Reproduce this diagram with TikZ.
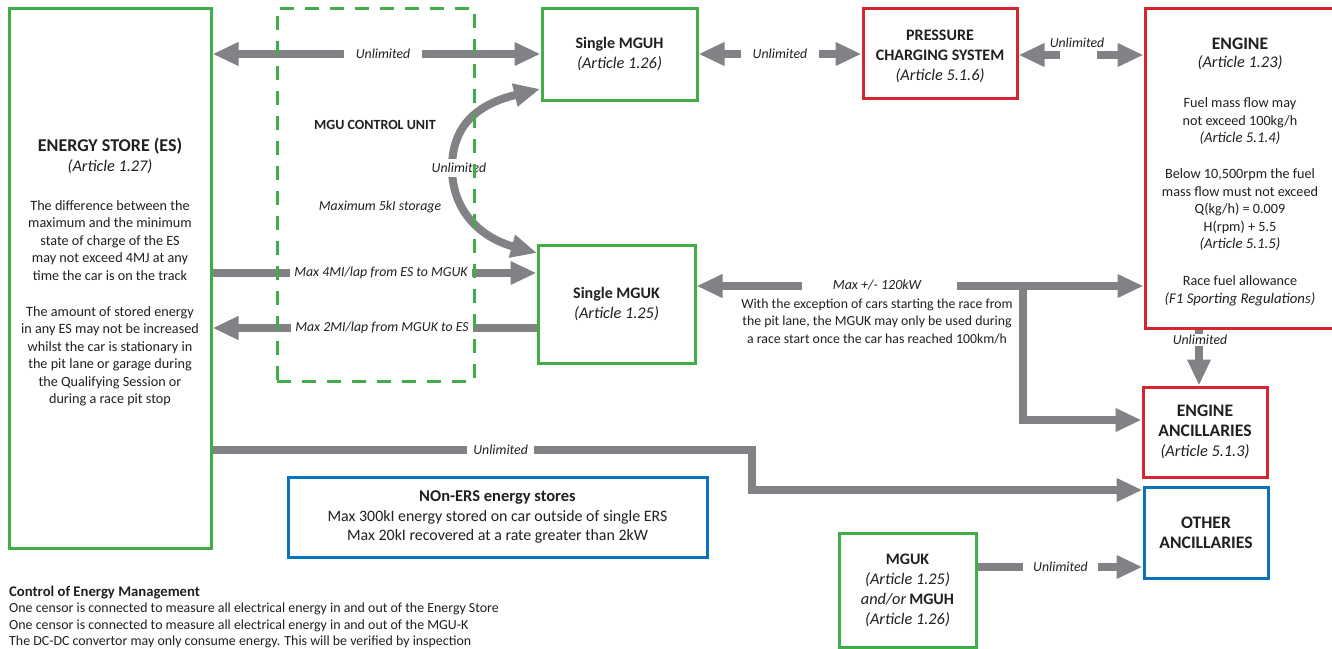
\documentclass[tikz,border=0pt]{standalone}
\usepackage{fontspec}
\setmainfont{Carlito}
\usetikzlibrary{arrows.meta,calc}
\definecolor{fgreen}{HTML}{3FAE49}
\definecolor{fred}{HTML}{D7252F}
\definecolor{fblue}{HTML}{0A73BA}
\definecolor{fgray}{HTML}{808285}
\definecolor{ftext}{HTML}{231F20}
\newcommand\bodyf{\fontsize{14.2}{17.5}\selectfont}
\newcommand\boxf{\fontsize{14.2}{17.5}\selectfont}
\newcommand\artf{\fontsize{16.3}{17.5}\selectfont\itshape}
\newcommand\engartf{\fontsize{14.8}{17.5}\selectfont\itshape}
\newcommand\titf{\fontsize{16}{20}\selectfont\bfseries}
\newcommand\bigtitf{\fontsize{17.6}{20}\selectfont\bfseries}
\newcommand\itlab{\fontsize{13.8}{16}\selectfont\itshape}
\tikzset{
  box/.style={draw, line width=3pt, fill=white, inner sep=0pt, align=center, text=ftext, font=\boxf},
  gbox/.style={box, draw=fgreen},
  rbox/.style={box, draw=fred},
  bbox/.style={box, draw=fblue},
  flow/.style={draw=fgray, line width=8pt, -{Triangle[length=26pt,width=22pt]}},
  bflow/.style={draw=fgray, line width=8pt, {Triangle[length=26pt,width=22pt]}-{Triangle[length=26pt,width=22pt]}},
  lab/.style={font=\itlab, text=ftext, fill=white, inner ysep=2pt, inner xsep=4pt},
  gapnode/.style={fill=white, inner sep=0pt, minimum height=14pt},
  txt/.style={align=center, text=ftext, inner sep=0pt},
}
\begin{document}
\begin{tikzpicture}[x=1pt,y=-1pt]
\fill[white] (0,0) rectangle (1332,648);
\useasboundingbox (0,0) rectangle (1332,648);

% boxes
\node[gbox, minimum width=202pt, minimum height=540pt] (es) at (110,278) {};
\node[txt, font=\bodyf] (estext) at (110,272) {{\fontsize{18}{20}\selectfont\bfseries ENERGY STORE (ES)}\\[2.5pt]
  {\artf (Article 1.27)}\\[21.5pt]
  The difference between the\\ maximum and the minimum\\ state of charge of the ES\\
  may not exceed 4MJ at any\\ time the car is on the track\\[18.5pt]
  The amount of stored energy\\ in any ES may not be increased\\ whilst the car is stationary in\\
  the pit lane or garage during\\ the Qualifying Session or\\ during a race pit stop};

\node[gbox, minimum width=155pt, minimum height=92pt] (mguh) at (619.5,54)
  {{\titf Single MGUH}\\[2.5pt]{\artf (Article 1.26)}};
\node[gbox, minimum width=157pt, minimum height=118pt] (mguk) at (616.5,304)
  {{\titf Single MGUK}\\[2.5pt]{\artf (Article 1.25)}};
\node[rbox, minimum width=154pt, minimum height=90pt] (pcs) at (940,53) {};
\node[txt, font=\boxf] (pcstext) at (940,56.5)
  {{\titf PRESSURE}\\[2.5pt]{\titf CHARGING SYSTEM}\\[2.5pt]{\artf (Article 5.1.6)}};
\node[rbox, minimum width=190pt, minimum height=320pt] (eng) at (1240,168) {};
\node[txt, font=\bodyf] (engtext) at (1240,172)
  {{\bigtitf ENGINE}\\[0.5pt]{\artf (Article 1.23)}\\[22.5pt]
   Fuel mass flow may\\ not exceed 100kg/h\\ {\engartf (Article 5.1.4)}\\[18.5pt]
   Below 10,500rpm the fuel\\ mass flow must not exceed\\ Q(kg/h) = 0.009\\ H(rpm) + 5.5\\
   {\engartf (Article 5.1.5)}\\[19.5pt]
   Race fuel allowance\\ {\engartf (F1 Sporting Regulations)}};
\node[rbox, minimum width=124pt, minimum height=90pt] (eanc) at (1205,432)
  {{\bigtitf ENGINE}\\[2.5pt]{\bigtitf ANCILLARIES}\\[2.5pt]{\artf (Article 5.1.3)}};
\node[bbox, minimum width=124pt, minimum height=91pt] (oanc) at (1206,532.5)
  {{\bigtitf OTHER}\\[2.5pt]{\bigtitf ANCILLARIES}};
\node[gbox, minimum width=137pt, minimum height=114pt] (mm) at (907.5,590)
  {{\titf MGUK}\\[2.5pt]{\artf (Article 1.25)}\\[2.5pt]{\artf and/or} {\titf MGUH}\\[2.5pt]{\artf (Article 1.26)}};
\node[bbox, minimum width=419pt, minimum height=80pt, font=\fontsize{15.9}{19.5}\selectfont] (nonERS) at (497.5,517)
  {{\fontsize{16.5}{19.5}\selectfont\bfseries NOn-ERS energy stores}\\Max 300kI energy stored on car outside of single ERS\\Max 20kI recovered at a rate greater than 2kW};

% connectors
\draw[bflow] (es.east |- mguh.west) -- node[lab, pos=0.52, inner xsep=12pt] (l1) {Unlimited} (mguh.west);
\draw[bflow] (mguh.east) -- node[lab, inner xsep=12pt] (l2) {Unlimited} (mguh.east -| pcs.west);
\coordinate (a3) at ($(pcs.east)+(0,2)$);
\draw[bflow] (a3) -- node[gapnode, minimum width=37pt, pos=0.476] (g3) {} (a3 -| eng.west);
\node[lab, fill=none] (l3) at (1077,43) {Unlimited};

\coordinate (c4a) at (540,89);
\coordinate (c4b) at (537,253);
\draw[bflow] (c4a) .. controls (478,104) and (452,125) .. (452,168)
   .. controls (452,212) and (482,238) .. (c4b);
\node[lab, inner xsep=2pt, inner ysep=4pt] (l4) at (459,168) {Unlimited};

\coordinate (a5) at ($(mguk.west)+(0,-31)$);
\draw[flow] (es.east |- a5) -- node[lab, pos=0.52] (l5) {Max 4MI/lap from ES to MGUK} (a5);
\coordinate (a6) at ($(mguk.west)+(0,24)$);
\draw[flow] (a6) -- node[lab, pos=0.477] (l6) {Max 2MI/lap from MGUK to ES} (es.east |- a6);

\coordinate (a7) at ($(mguk.east)+(0,-18)$);
\draw[bflow] (a7) -- node[gapnode, minimum width=155pt, pos=0.409] (g7) {} (a7 -| eng.west);
\node[lab, fill=none, font=\fontsize{14}{16}\selectfont\itshape] (l7) at (877,285) {Max +/- 120kW};
\node[txt, font=\fontsize{13.8}{17.5}\selectfont] (l7b) at (877,321)
  {With the exception of cars starting the race from\\ the pit lane, the MGUK may only be used during\\ a race start once the car has reached 100km/h};
\coordinate (br) at (1023,286);
\draw[flow] (br) |- ($(eanc.west)+(0,-12)$);

\draw[flow] ($(eng.south)+(-41,0)$) -- ($(eanc.north)+(-6,0)$);
\node[lab, inner xsep=2pt, inner ysep=1pt] (l8) at (1200,340) {Unlimited};

\coordinate (c9) at (752,450);
\draw[flow] (es.east |- c9) -- node[lab, pos=0.534, inner xsep=6pt] (l9) {Unlimited} (c9) |- ($(oanc.west)+(0,-42.5)$);

\coordinate (a10) at ($(mm.east)+(0,-23)$);
\draw[flow] (a10) -- node[lab, pos=0.503, inner xsep=10pt] (l10) {Unlimited} (a10 -| oanc.west);

% MGU control unit
\node[draw=fgreen, line width=3pt, dash pattern=on 14pt off 11pt, minimum width=197pt, minimum height=373pt, inner sep=0pt] (mcu) at (375.5,194.5) {};
\node[txt, font=\fontsize{14}{16}\selectfont\bfseries] (mcutitle) at (375,125) {MGU CONTROL UNIT};
\node[txt, font=\itlab] (mcustore) at (380,207) {Maximum 5kI storage};

% footer
\node[txt, align=left, anchor=north west, font=\fontsize{13.9}{16.5}\selectfont] (cem) at (9,585.5)
  {{\fontsize{14.7}{16.5}\selectfont\bfseries Control of Energy Management}\\
   One censor is connected to measure all electrical energy in and out of the Energy Store\\
   One censor is connected to measure all electrical energy in and out of the MGU-K\\
   The DC-DC convertor may only consume energy. This will be verified by inspection};
\end{tikzpicture}
\end{document}
